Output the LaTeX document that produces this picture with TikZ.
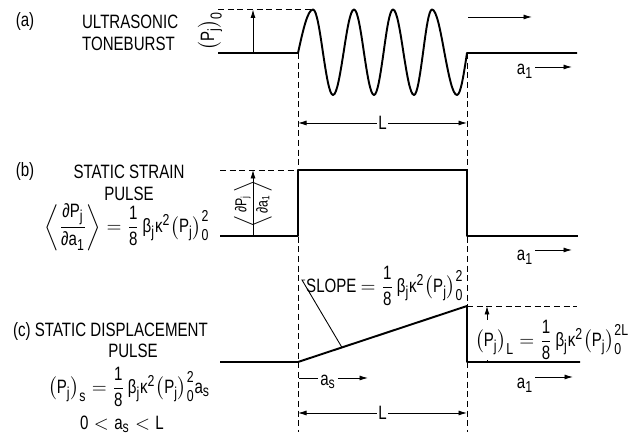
\documentclass[tikz,border=0pt]{standalone}
\usepackage{fontspec}
\setmainfont{Liberation Sans}[FakeStretch=0.78]
\usepackage{amsmath}
\usetikzlibrary{arrows.meta, positioning}
\DeclareMathSizes{11}{11}{9}{7}
\newcommand{\Pj}{\text{P}_{\text{j}}}
\newcommand{\coef}{\dfrac{\text{1}}{\text{8}}\,\text{β}_{\text{j}}\text{κ}^{\text{2}}}
\newcommand{\strain}{\left\langle\dfrac{\text{∂P}_{\text{j}}}{\text{∂a}_{\text{1}}}\right\rangle}
\tikzset{
  trace/.style   = {line width=1.1pt, black, line join=round},
  guide/.style   = {line width=0.5pt, dash pattern=on 3.5pt off 2pt},
  flow/.style    = {-{Latex[length=1.7mm, width=1mm]}, line width=0.5pt},
  dimline/.style = {{Latex[length=1.7mm, width=1mm]}-{Latex[length=1.7mm, width=1mm]},
                    line width=0.5pt},
  lbl/.style     = {font=\fontsize{11}{12.5}\selectfont, inner sep=1pt},
  eqn/.style     = {font=\fontsize{11}{12.5}\selectfont, inner sep=0.5pt},
}

\begin{document}
\begin{tikzpicture}
  \useasboundingbox (0,0) rectangle (12.88,8.76);
  % guides through start and end of the burst
  \draw[guide] (5.96,7.7) -- (5.96,0.12);
  \draw[guide] (9.34,7.7) -- (9.34,0.12);
  % (a) toneburst
  \begin{scope}[shift={(0,7.7)}]
    \node[lbl] (tagA) at (0.5,0.62) {(a)};
    \node[lbl, anchor=west] (titleA) at (1.6,0.62) {ULTRASONIC};
    \node[lbl, anchor=west] (titleA2) at (1.6,0.18) {TONEBURST};
    \draw[trace] (4.36,0) -- (5.96,0) sin (6.26,0.87) cos (6.46,0) sin (6.66,-0.84) cos (6.87,0)
      sin (7.08,0.87) cos (7.28,0) sin (7.48,-0.84) cos (7.67,0) sin (7.86,0.87) cos (8.07,0)
      sin (8.28,-0.84) cos (8.46,0) sin (8.64,0.87) cos (8.89,0) sin (9.14,-0.84) cos (9.34,0)
      -- (11.54,0);
    \draw[guide] (4.36,0.87) -- (6.26,0.87);
    \draw[flow] (5.06,0) -- (5.06,0.87);
    \node[lbl, rotate=90] (ampA) at (4.2,0.44) {$\bigl(\Pj\bigr)_{\text{0}}$};
    \coordinate (waveS) at (9.36,0.72);
    \coordinate (waveE) at (10.64,0.72);
    \draw[flow] (waveS) -- (waveE);
    \node[lbl] (aoneA) at (10.5,-0.36) {$\text{a}_{\text{1}}$};
    \coordinate (aoneAtip) at (11.44,-0.28);
    \draw[flow] (aoneA.east |- aoneAtip) -- (aoneAtip);
    \draw[dimline] (5.96,-1.4) -- node[lbl, fill=white] (lenA) {L} (9.34,-1.4);
  \end{scope}
  % (b) strain pulse
  \begin{scope}[shift={(0,4.04)}]
    \node[lbl] (tagB) at (0.5,1.28) {(b)};
    \node[lbl] (titleB) at (2.58,1.28) {STATIC STRAIN};
    \node[lbl, below=2pt of titleB] (pulseB) {PULSE};
    \node[eqn] (eqB) at (2.54,0.18) {$\strain = \coef\bigl(\Pj\bigr)_{\text{0}}^{\text{2}}$};
    \draw[trace] (4.4,0) -- (5.96,0) -- (5.96,1.32) -- (9.34,1.32) -- (9.34,0) -- (11.56,0);
    \draw[guide] (4.4,1.32) -- (5.96,1.32);
    \draw[flow] (5.06,0) -- (5.06,1.32);
    \node[eqn, font=\fontsize{9}{11}\selectfont, rotate=90] (ampB) at (5.06,0.64) {$\strain$};
    \node[lbl] (aoneB) at (10.5,-0.42) {$\text{a}_{\text{1}}$};
    \coordinate (aoneBtip) at (11.44,-0.28);
    \draw[flow] (aoneB.east |- aoneBtip) -- (aoneBtip);
  \end{scope}
  % (c) displacement pulse
  \begin{scope}[shift={(0,1.52)}]
    \node[lbl, anchor=west] (titleC) at (0.22,0.6) {(c) STATIC DISPLACEMENT};
    \node[lbl] (pulseC) at (2.66,0.22) {PULSE};
    \node[eqn] (eqC) at (2.58,-0.5)
      {$\bigl(\Pj\bigr)_{\text{s}} = \coef\bigl(\Pj\bigr)_{\text{0}}^{\text{2}}\text{a}_{\text{s}}$};
    \node[lbl] (rangeC) at (2.44,-1.24) {$\text{0} < \text{a}_{\text{s}} < \text{L}$};
    \draw[trace] (4.4,0) -- (5.96,0) -- coordinate[pos=0.26] (rampPt) (9.34,1.12)
      -- (9.34,0) -- (11.6,0);
    \draw[guide] (9.34,1.12) -- (11.54,1.12);
    \draw[flow] (9.74,0) -- (9.74,1.12);
    \node[eqn, fill=white, inner sep=0pt] (heightC) at (11.04,0.44)
      {$\bigl(\Pj\bigr)_{\text{L}} = \coef\bigl(\Pj\bigr)_{\text{0}}^{\text{2L}}$};
    \node[eqn, anchor=west] (slopeC) at (6.1,1.52)
      {SLOPE $= \coef\bigl(\Pj\bigr)_{\text{0}}^{\text{2}}$};
    \coordinate (bendC) at (6.04,1.64);
    \draw[line width=0.5pt] (rampPt) -- (bendC) -- (bendC -| slopeC.west);
    \node[lbl] (asC) at (6.56,-0.4) {$\text{a}_{\text{s}}$};
    \coordinate (asL) at (5.98,-0.32);
    \coordinate (asR) at (7.36,-0.32);
    \draw[line width=0.5pt] (asL) -- (asL -| asC.west);
    \draw[flow] (asC.east |- asR) -- (asR);
    \node[lbl] (aoneC) at (10.5,-0.46) {$\text{a}_{\text{1}}$};
    \coordinate (aoneCtip) at (11.46,-0.3);
    \draw[flow] (aoneC.east |- aoneCtip) -- (aoneCtip);
    \draw[dimline] (5.96,-1.02) -- node[lbl, fill=white] (lenC) {L} (9.34,-1.02);
  \end{scope}
\end{tikzpicture}
\end{document}
